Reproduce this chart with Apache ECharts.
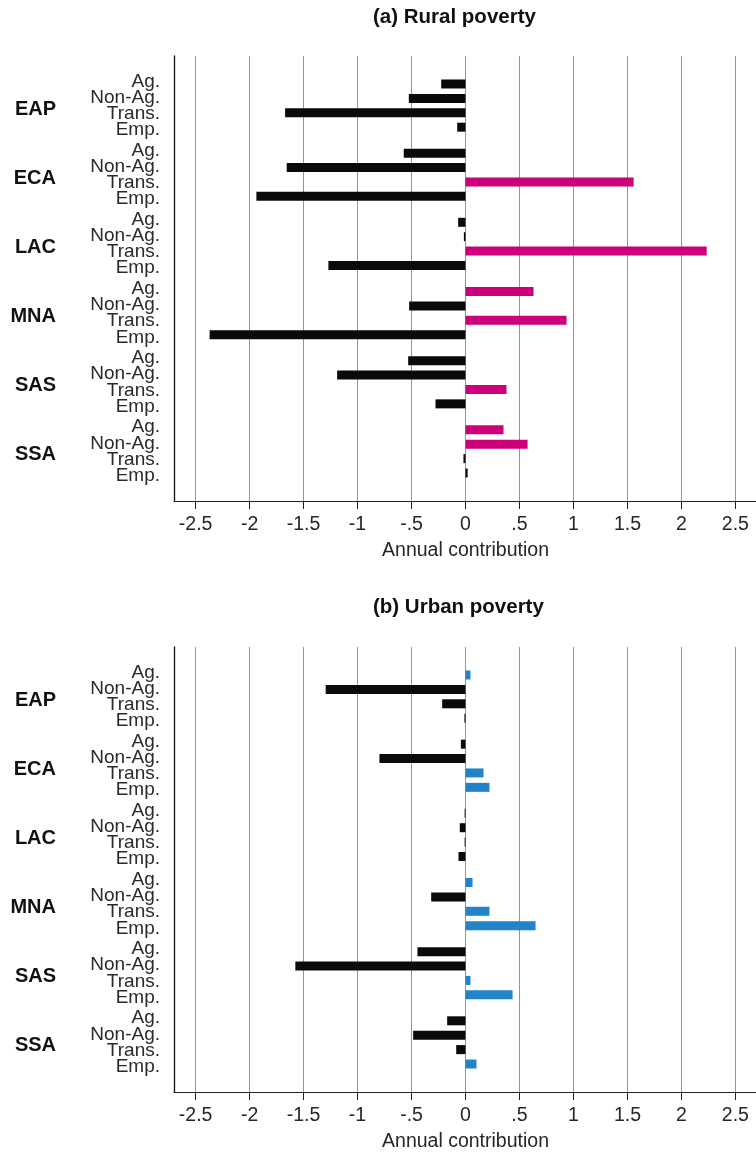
<!DOCTYPE html>
<html>
<head>
<meta charset="utf-8">
<title>Annual contribution to poverty change</title>
<script src="https://cdn.jsdelivr.net/npm/echarts@6/dist/echarts.min.js"></script>
<style>
  html, body { margin: 0; padding: 0; background: #ffffff; }
  #chart { width: 756px; height: 1154px; }
</style>
</head>
<body>
<div id="chart"></div>
<script>
// Regions and components (one bar per component within each region)
const regions = ['EAP', 'ECA', 'LAC', 'MNA', 'SAS', 'SSA'];
const components = ['Ag.', 'Non-Ag.', 'Trans.', 'Emp.'];

// (a) Rural poverty: annual contribution by component, in region order
const ruralAg    = [-0.225, -0.572, -0.068,  0.630, -0.531,  0.352];
const ruralNonAg = [-0.525, -1.656, -0.015, -0.522, -1.189,  0.575];
const ruralTrans = [-1.671,  1.557,  2.234,  0.936,  0.380, -0.019];
const ruralEmp   = [-0.077, -1.937, -1.270, -2.370, -0.278,  0.020];

// (b) Urban poverty
const urbanAg    = [ 0.046, -0.043, -0.008,  0.065, -0.445, -0.170];
const urbanNonAg = [-1.295, -0.797, -0.053, -0.318, -1.576, -0.485];
const urbanTrans = [-0.216,  0.167, -0.008,  0.222,  0.046, -0.086];
const urbanEmp   = [-0.010,  0.222, -0.065,  0.649,  0.436,  0.102];

// Axis ticks
const xTicks = [-2.5, -2, -1.5, -1, -0.5, 0, 0.5, 1, 1.5, 2, 2.5];
const xMin = -2.7, xMax = 2.7;

const FONT = 'Liberation Sans, Arial, Helvetica, sans-serif';
const BLACK = '#0a0a0a';
const PINK = '#cc007a';
const BLUE = '#2283c8';

function fmtTick(v) {
  return String(v).replace(/^(-?)0\./, '$1.');
}

// Panel geometry: frame (axes, grid lines) and inner band holding the bars
const panels = [
  { title: '(a) Rural poverty', titleTop: 2, frameTop: 56, series: [ruralAg, ruralNonAg, ruralTrans, ruralEmp], accent: PINK },
  { title: '(b) Urban poverty', titleTop: 592, frameTop: 647, series: [urbanAg, urbanNonAg, urbanTrans, urbanEmp], accent: BLUE }
];
const LEFT = 174, WIDTH = 583, FRAME_H = 445, BAND_PAD = 15, BAND_H = 415;

const option = {
  animation: false,
  backgroundColor: '#ffffff',
  title: [], grid: [], xAxis: [], yAxis: [], series: []
};

panels.forEach(function (p, k) {
  const gFrame = k * 2, gBars = k * 2 + 1;

  option.title.push({
    text: p.title, left: 368, top: p.titleTop,
    textStyle: { fontFamily: FONT, fontWeight: 'bold', fontSize: 20.5, color: '#111' }
  });

  option.grid.push(
    { left: LEFT, top: p.frameTop, width: WIDTH, height: FRAME_H, containLabel: false, outerBoundsMode: 'none' },
    { left: LEFT, top: p.frameTop + BAND_PAD, width: WIDTH, height: BAND_H, containLabel: false, outerBoundsMode: 'none' }
  );

  // frame x axis with ticks, labels, grid lines and title
  option.xAxis.push({
    type: 'value', gridIndex: gFrame, min: xMin, max: xMax,
    splitNumber: 10, minInterval: 0.5, maxInterval: 0.5,
    axisLine: { show: true, onZero: false, lineStyle: { color: '#222', width: 1.2 } },
    axisTick: { show: true, length: 8, customValues: xTicks, lineStyle: { color: '#222', width: 1 } },
    axisLabel: {
      show: true, customValues: xTicks, margin: 14, formatter: fmtTick,
      fontFamily: FONT, fontSize: 19.5, color: '#262626'
    },
    splitLine: { show: true, lineStyle: { color: '#949494', width: 1 } },
    name: 'Annual contribution', nameLocation: 'middle', nameGap: 40,
    nameTextStyle: { fontFamily: FONT, fontSize: 19.5, color: '#262626' }
  });
  // bars x axis shares the same scale, drawn invisibly
  option.xAxis.push({
    type: 'value', gridIndex: gBars, min: xMin, max: xMax,
    axisLine: { show: false }, axisTick: { show: false },
    axisLabel: { show: false }, splitLine: { show: false }
  });

  // frame y axis: only its line on the left
  option.yAxis.push({
    type: 'value', gridIndex: gFrame, min: 0, max: 1,
    axisLine: { show: true, onZero: false, lineStyle: { color: '#111', width: 1.3 } },
    axisTick: { show: false }, axisLabel: { show: false }, splitLine: { show: false }
  });
  // region names
  option.yAxis.push({
    type: 'category', gridIndex: gBars, position: 'left', inverse: true, data: regions,
    axisLine: { show: false }, axisTick: { show: false }, splitLine: { show: false },
    axisLabel: {
      interval: 0, margin: LEFT - 56, align: 'right',
      formatter: function (v) { return '{g|' + v + '}'; },
      rich: {
        g: { fontFamily: FONT, fontWeight: 'bold', fontSize: 20, color: '#111', padding: [7, 0, 0, 0] }
      }
    }
  });
  // component names, stacked beside each region
  option.yAxis.push({
    type: 'category', gridIndex: gBars, position: 'left', inverse: true, data: regions,
    axisLine: { show: false }, axisTick: { show: false }, splitLine: { show: false },
    axisLabel: {
      interval: 0, margin: 14, align: 'right',
      formatter: function () { return components.join('\n'); },
      fontFamily: FONT, fontSize: 19, lineHeight: 16.2, color: '#2a2a2a'
    }
  });

  const xBars = k * 2 + 1;
  const yBars = k * 3 + 1;
  p.series.forEach(function (vals, i) {
    option.series.push({
      type: 'bar', name: components[i],
      xAxisIndex: xBars, yAxisIndex: yBars,
      barWidth: 9, barGap: '60%',
      data: vals,
      itemStyle: {
        // gains are shown in the accent colour; declines and near-zero values in black
        color: function (d) { return d.value > 0.03 ? p.accent : BLACK; }
      }
    });
  });
});

const chart = echarts.init(document.getElementById('chart'), null, { renderer: 'canvas' });
chart.setOption(option);
</script>
</body>
</html>
